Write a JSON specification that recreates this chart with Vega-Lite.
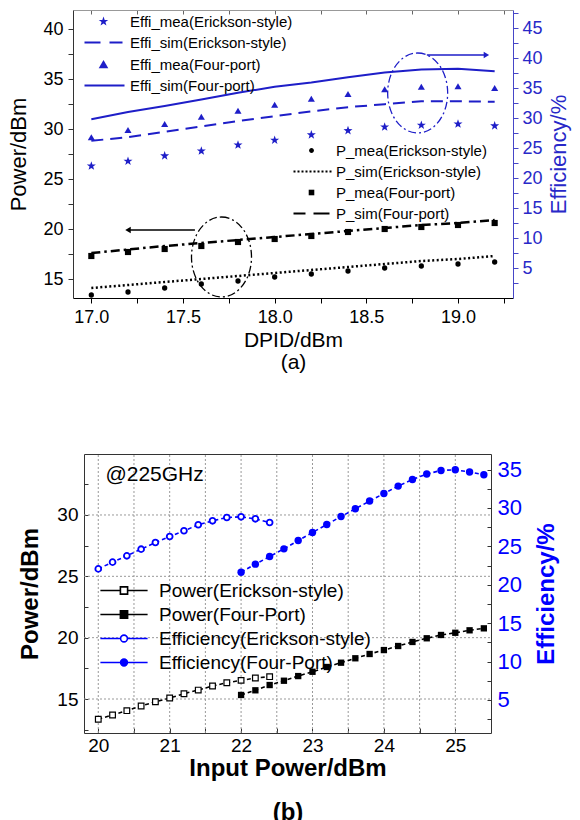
{
"$schema": "https://vega.github.io/schema/vega-lite/v6.json",
"width": 580, "height": 820,
"autosize": {"type": "none"},
"padding": 0,
"config": {"font": "Liberation Sans", "view": {"stroke": null}},
"datasets": {
"a": [
{"s":"Effi_mea(Erickson-style)","x":17.0,"v":22.0},{"s":"Effi_mea(Erickson-style)","x":17.2,"v":22.8},{"s":"Effi_mea(Erickson-style)","x":17.4,"v":23.7},{"s":"Effi_mea(Erickson-style)","x":17.6,"v":24.5},{"s":"Effi_mea(Erickson-style)","x":17.8,"v":25.5},{"s":"Effi_mea(Erickson-style)","x":18.0,"v":26.3},{"s":"Effi_mea(Erickson-style)","x":18.2,"v":27.2},{"s":"Effi_mea(Erickson-style)","x":18.4,"v":27.9},{"s":"Effi_mea(Erickson-style)","x":18.6,"v":28.5},{"s":"Effi_mea(Erickson-style)","x":18.8,"v":28.8},{"s":"Effi_mea(Erickson-style)","x":19.0,"v":29.0},{"s":"Effi_mea(Erickson-style)","x":19.2,"v":28.7},
{"s":"Effi_sim(Erickson-style)","x":17.0,"v":26.2},{"s":"Effi_sim(Erickson-style)","x":17.2,"v":26.8},{"s":"Effi_sim(Erickson-style)","x":17.4,"v":27.7},{"s":"Effi_sim(Erickson-style)","x":17.6,"v":28.6},{"s":"Effi_sim(Erickson-style)","x":17.8,"v":29.5},{"s":"Effi_sim(Erickson-style)","x":18.0,"v":30.3},{"s":"Effi_sim(Erickson-style)","x":18.2,"v":31.1},{"s":"Effi_sim(Erickson-style)","x":18.4,"v":31.8},{"s":"Effi_sim(Erickson-style)","x":18.6,"v":32.3},{"s":"Effi_sim(Erickson-style)","x":18.8,"v":32.8},{"s":"Effi_sim(Erickson-style)","x":19.0,"v":32.8},{"s":"Effi_sim(Erickson-style)","x":19.2,"v":32.7},
{"s":"Effi_mea(Four-port)","x":17.0,"v":26.8},{"s":"Effi_mea(Four-port)","x":17.2,"v":28.0},{"s":"Effi_mea(Four-port)","x":17.4,"v":29.0},{"s":"Effi_mea(Four-port)","x":17.6,"v":30.2},{"s":"Effi_mea(Four-port)","x":17.8,"v":31.2},{"s":"Effi_mea(Four-port)","x":18.0,"v":32.2},{"s":"Effi_mea(Four-port)","x":18.2,"v":33.2},{"s":"Effi_mea(Four-port)","x":18.4,"v":34.0},{"s":"Effi_mea(Four-port)","x":18.6,"v":34.8},{"s":"Effi_mea(Four-port)","x":18.8,"v":35.2},{"s":"Effi_mea(Four-port)","x":19.0,"v":35.3},{"s":"Effi_mea(Four-port)","x":19.2,"v":35.0},
{"s":"Effi_sim(Four-port)","x":17.0,"v":29.8},{"s":"Effi_sim(Four-port)","x":17.2,"v":31.0},{"s":"Effi_sim(Four-port)","x":17.4,"v":32.0},{"s":"Effi_sim(Four-port)","x":17.6,"v":33.1},{"s":"Effi_sim(Four-port)","x":17.8,"v":34.2},{"s":"Effi_sim(Four-port)","x":18.0,"v":35.2},{"s":"Effi_sim(Four-port)","x":18.2,"v":35.9},{"s":"Effi_sim(Four-port)","x":18.4,"v":36.8},{"s":"Effi_sim(Four-port)","x":18.6,"v":37.6},{"s":"Effi_sim(Four-port)","x":18.8,"v":38.1},{"s":"Effi_sim(Four-port)","x":19.0,"v":38.2},{"s":"Effi_sim(Four-port)","x":19.2,"v":37.8},
{"s":"P_mea(Erickson-style)","x":17.0,"v":13.4},{"s":"P_mea(Erickson-style)","x":17.2,"v":13.7},{"s":"P_mea(Erickson-style)","x":17.4,"v":14.1},{"s":"P_mea(Erickson-style)","x":17.6,"v":14.5},{"s":"P_mea(Erickson-style)","x":17.8,"v":14.8},{"s":"P_mea(Erickson-style)","x":18.0,"v":15.2},{"s":"P_mea(Erickson-style)","x":18.2,"v":15.5},{"s":"P_mea(Erickson-style)","x":18.4,"v":15.8},{"s":"P_mea(Erickson-style)","x":18.6,"v":16.1},{"s":"P_mea(Erickson-style)","x":18.8,"v":16.3},{"s":"P_mea(Erickson-style)","x":19.0,"v":16.5},{"s":"P_mea(Erickson-style)","x":19.2,"v":16.7},
{"s":"P_sim(Erickson-style)","x":17.0,"v":14.1},{"s":"P_sim(Erickson-style)","x":17.2,"v":14.4},{"s":"P_sim(Erickson-style)","x":17.4,"v":14.7},{"s":"P_sim(Erickson-style)","x":17.6,"v":15.0},{"s":"P_sim(Erickson-style)","x":17.8,"v":15.3},{"s":"P_sim(Erickson-style)","x":18.0,"v":15.6},{"s":"P_sim(Erickson-style)","x":18.2,"v":15.9},{"s":"P_sim(Erickson-style)","x":18.4,"v":16.2},{"s":"P_sim(Erickson-style)","x":18.6,"v":16.5},{"s":"P_sim(Erickson-style)","x":18.8,"v":16.8},{"s":"P_sim(Erickson-style)","x":19.0,"v":17.0},{"s":"P_sim(Erickson-style)","x":19.2,"v":17.3},
{"s":"P_mea(Four-port)","x":17.0,"v":17.3},{"s":"P_mea(Four-port)","x":17.2,"v":17.7},{"s":"P_mea(Four-port)","x":17.4,"v":18.0},{"s":"P_mea(Four-port)","x":17.6,"v":18.3},{"s":"P_mea(Four-port)","x":17.8,"v":18.7},{"s":"P_mea(Four-port)","x":18.0,"v":19.0},{"s":"P_mea(Four-port)","x":18.2,"v":19.3},{"s":"P_mea(Four-port)","x":18.4,"v":19.7},{"s":"P_mea(Four-port)","x":18.6,"v":20.0},{"s":"P_mea(Four-port)","x":18.8,"v":20.2},{"s":"P_mea(Four-port)","x":19.0,"v":20.4},{"s":"P_mea(Four-port)","x":19.2,"v":20.6},
{"s":"P_sim(Four-port)","x":17.0,"v":17.6},{"s":"P_sim(Four-port)","x":17.2,"v":17.95},{"s":"P_sim(Four-port)","x":17.4,"v":18.3},{"s":"P_sim(Four-port)","x":17.6,"v":18.6},{"s":"P_sim(Four-port)","x":17.8,"v":18.9},{"s":"P_sim(Four-port)","x":18.0,"v":19.2},{"s":"P_sim(Four-port)","x":18.2,"v":19.5},{"s":"P_sim(Four-port)","x":18.4,"v":19.8},{"s":"P_sim(Four-port)","x":18.6,"v":20.1},{"s":"P_sim(Four-port)","x":18.8,"v":20.4},{"s":"P_sim(Four-port)","x":19.0,"v":20.6},{"s":"P_sim(Four-port)","x":19.2,"v":20.9}
],
"aa": [
{"k":"e1","x":17.71,"v":17.2},
{"k":"e2","x":18.78,"v":34.17},
{"k":"a1","x":17.565,"x2":17.2,"v":19.9},
{"k":"a2","x":18.83,"x2":19.155,"v":40.5}
],
"gx": [{"g":20},{"g":20.5},{"g":21},{"g":21.5},{"g":22},{"g":22.5},{"g":23},{"g":23.5},{"g":24},{"g":24.5},{"g":25}],
"gy": [{"g":15},{"g":20},{"g":25},{"g":30}],
"lbl": [{"t":"@225GHz","x":20.1,"v":32.77}],
"b": [
{"s":"Power(Erickson-style)","x":20.0,"v":13.35},{"s":"Power(Erickson-style)","x":20.2,"v":13.70},{"s":"Power(Erickson-style)","x":20.4,"v":14.05},{"s":"Power(Erickson-style)","x":20.6,"v":14.43},{"s":"Power(Erickson-style)","x":20.8,"v":14.78},{"s":"Power(Erickson-style)","x":21.0,"v":15.08},{"s":"Power(Erickson-style)","x":21.2,"v":15.43},{"s":"Power(Erickson-style)","x":21.4,"v":15.73},{"s":"Power(Erickson-style)","x":21.6,"v":16.06},{"s":"Power(Erickson-style)","x":21.8,"v":16.33},{"s":"Power(Erickson-style)","x":22.0,"v":16.52},{"s":"Power(Erickson-style)","x":22.2,"v":16.71},{"s":"Power(Erickson-style)","x":22.4,"v":16.82},
{"s":"Power(Four-Port)","x":22.0,"v":15.33},{"s":"Power(Four-Port)","x":22.2,"v":15.71},{"s":"Power(Four-Port)","x":22.4,"v":16.14},{"s":"Power(Four-Port)","x":22.6,"v":16.49},{"s":"Power(Four-Port)","x":22.8,"v":16.87},{"s":"Power(Four-Port)","x":23.0,"v":17.22},{"s":"Power(Four-Port)","x":23.2,"v":17.61},{"s":"Power(Four-Port)","x":23.4,"v":17.96},{"s":"Power(Four-Port)","x":23.6,"v":18.32},{"s":"Power(Four-Port)","x":23.8,"v":18.67},{"s":"Power(Four-Port)","x":24.0,"v":18.99},{"s":"Power(Four-Port)","x":24.2,"v":19.32},{"s":"Power(Four-Port)","x":24.4,"v":19.65},{"s":"Power(Four-Port)","x":24.6,"v":19.95},{"s":"Power(Four-Port)","x":24.8,"v":20.22},{"s":"Power(Four-Port)","x":25.0,"v":20.40},{"s":"Power(Four-Port)","x":25.2,"v":20.60},{"s":"Power(Four-Port)","x":25.4,"v":20.76},
{"s":"Efficiency(Erickson-style)","x":20.0,"v":22.07},{"s":"Efficiency(Erickson-style)","x":20.2,"v":22.95},{"s":"Efficiency(Erickson-style)","x":20.4,"v":23.77},{"s":"Efficiency(Erickson-style)","x":20.6,"v":24.64},{"s":"Efficiency(Erickson-style)","x":20.8,"v":25.5},{"s":"Efficiency(Erickson-style)","x":21.0,"v":26.28},{"s":"Efficiency(Erickson-style)","x":21.2,"v":27.03},{"s":"Efficiency(Erickson-style)","x":21.4,"v":27.81},{"s":"Efficiency(Erickson-style)","x":21.6,"v":28.33},{"s":"Efficiency(Erickson-style)","x":21.8,"v":28.76},{"s":"Efficiency(Erickson-style)","x":22.0,"v":28.85},{"s":"Efficiency(Erickson-style)","x":22.2,"v":28.59},{"s":"Efficiency(Erickson-style)","x":22.4,"v":28.11},
{"s":"Efficiency(Four-Port)","x":22.0,"v":21.64},{"s":"Efficiency(Four-Port)","x":22.2,"v":22.69},{"s":"Efficiency(Four-Port)","x":22.4,"v":23.68},{"s":"Efficiency(Four-Port)","x":22.6,"v":24.68},{"s":"Efficiency(Four-Port)","x":22.8,"v":25.76},{"s":"Efficiency(Four-Port)","x":23.0,"v":26.81},{"s":"Efficiency(Four-Port)","x":23.2,"v":27.85},{"s":"Efficiency(Four-Port)","x":23.4,"v":28.89},{"s":"Efficiency(Four-Port)","x":23.6,"v":29.9},{"s":"Efficiency(Four-Port)","x":23.8,"v":30.9},{"s":"Efficiency(Four-Port)","x":24.0,"v":31.89},{"s":"Efficiency(Four-Port)","x":24.2,"v":32.85},{"s":"Efficiency(Four-Port)","x":24.4,"v":33.72},{"s":"Efficiency(Four-Port)","x":24.6,"v":34.42},{"s":"Efficiency(Four-Port)","x":24.8,"v":34.89},{"s":"Efficiency(Four-Port)","x":25.0,"v":34.98},{"s":"Efficiency(Four-Port)","x":25.2,"v":34.68},{"s":"Efficiency(Four-Port)","x":25.4,"v":34.33}
]
},
"layer": [
{"data": {"name": "gx"}, "mark": {"type": "rule", "color": "#999", "strokeWidth": 1, "strokeDash": [2, 2]},
 "encoding": {"x": {"field": "g", "type": "quantitative", "scale": {"domain": [19.8, 25.5], "range": [84, 491], "nice": false, "zero": false}, "axis": null},
  "y": {"datum": 12.23, "type": "quantitative", "scale": {"domain": [12.23, 34.97], "range": [733, 454], "nice": false, "zero": false}, "axis": null}, "y2": {"datum": 34.97}}},
{"data": {"name": "gy"}, "mark": {"type": "rule", "color": "#999", "strokeWidth": 1, "strokeDash": [2, 2]},
 "encoding": {"y": {"field": "g", "type": "quantitative", "scale": {"domain": [12.23, 34.97], "range": [733, 454], "nice": false, "zero": false}, "axis": null},
  "x": {"datum": 19.8, "type": "quantitative", "scale": {"domain": [19.8, 25.5], "range": [84, 491], "nice": false, "zero": false}, "axis": null}, "x2": {"datum": 25.5}}},

{"data": {"name": "a"}, "transform": [{"filter": "datum.s == 'P_sim(Erickson-style)'"}], "mark": {"type": "line", "color": "#000", "strokeWidth": 2.5, "strokeDash": [2, 2.5]},
 "encoding": {
  "x": {"field": "x", "type": "quantitative", "scale": {"domain": [16.9, 19.3], "range": [73, 513], "nice": false, "zero": false},
   "axis": {"orient": "bottom", "offset": -522, "title": ["DPID/dBm", "(a)"], "titleLineHeight": 22, "values": [17,17.25,17.5,17.75,18,18.25,18.5,18.75,19,19.25], "format": ".1f", "labelExpr": "datum.value*2 == round(datum.value*2) ? datum.label : ''", "labelFontSize": 18, "labelColor": "#000", "labelPadding": 5, "labelOverlap": false, "labelFlush": false, "tickSize": 5, "tickColor": "#000", "domainColor": "#000", "titleFontSize": 21, "titleFontWeight": "normal", "titleColor": "#000", "titlePadding": 3, "grid": false}},
  "y": {"field": "v", "type": "quantitative", "scale": {"domain": [13.1, 41.9], "range": [298, 10], "nice": false, "zero": false},
   "axis": {"orient": "left", "offset": -73, "title": "Power/dBm", "values": [15,17.5,20,22.5,25,27.5,30,32.5,35,37.5,40], "format": ".0f", "labelExpr": "datum.value % 5 == 0 ? datum.label : ''", "labelFontSize": 18, "labelColor": "#000", "labelPadding": 5, "labelOverlap": false, "tickSize": 5, "tickColor": "#333", "domainColor": "#333", "titleFontSize": 22, "titleFontWeight": "normal", "titleColor": "#000", "titlePadding": 12, "grid": false}}}},
{"data": {"name": "a"}, "transform": [{"filter": "datum.s == 'P_sim(Four-port)'"}], "mark": {"type": "line", "color": "#000", "strokeWidth": 2.5, "strokeDash": [9, 4, 2.5, 4]},
 "encoding": {"x": {"field": "x", "type": "quantitative", "scale": {"domain": [16.9, 19.3], "range": [73, 513], "nice": false, "zero": false}, "axis": null},
  "y": {"field": "v", "type": "quantitative", "scale": {"domain": [13.1, 41.9], "range": [298, 10], "nice": false, "zero": false}, "axis": null}}},
{"data": {"name": "a"}, "transform": [{"filter": "datum.s == 'P_mea(Erickson-style)'"}], "mark": {"type": "point", "shape": "circle", "filled": true, "color": "#000", "size": 28, "opacity": 1},
 "encoding": {"x": {"field": "x", "type": "quantitative", "scale": {"domain": [16.9, 19.3], "range": [73, 513], "nice": false, "zero": false}, "axis": null},
  "y": {"field": "v", "type": "quantitative", "scale": {"domain": [13.1, 41.9], "range": [298, 10], "nice": false, "zero": false}, "axis": null}}},
{"data": {"name": "a"}, "transform": [{"filter": "datum.s == 'P_mea(Four-port)'"}], "mark": {"type": "point", "shape": "square", "filled": true, "color": "#000", "size": 38, "opacity": 1},
 "encoding": {"x": {"field": "x", "type": "quantitative", "scale": {"domain": [16.9, 19.3], "range": [73, 513], "nice": false, "zero": false}, "axis": null},
  "y": {"field": "v", "type": "quantitative", "scale": {"domain": [13.1, 41.9], "range": [298, 10], "nice": false, "zero": false}, "axis": null}}},
{"data": {"name": "aa"}, "transform": [{"filter": "datum.k == 'e1'"}], "mark": {"type": "point", "shape": "M0,-1A0.75,1 0 1,1 0,1A0.75,1 0 1,1 0,-1Z", "size": 6400, "filled": false, "stroke": "#000", "strokeWidth": 1.3, "strokeDash": [8, 3, 2, 3], "opacity": 1},
 "encoding": {"x": {"field": "x", "type": "quantitative", "scale": {"domain": [16.9, 19.3], "range": [73, 513], "nice": false, "zero": false}, "axis": null},
  "y": {"field": "v", "type": "quantitative", "scale": {"domain": [13.1, 41.9], "range": [298, 10], "nice": false, "zero": false}, "axis": null}}},
{"data": {"name": "aa"}, "transform": [{"filter": "datum.k == 'a1'"}], "mark": {"type": "rule", "color": "#000", "strokeWidth": 1.5},
 "encoding": {"x": {"field": "x", "type": "quantitative", "scale": {"domain": [16.9, 19.3], "range": [73, 513], "nice": false, "zero": false}, "axis": null}, "x2": {"field": "x2"},
  "y": {"field": "v", "type": "quantitative", "scale": {"domain": [13.1, 41.9], "range": [298, 10], "nice": false, "zero": false}, "axis": null}}},
{"data": {"name": "aa"}, "transform": [{"filter": "datum.k == 'a1'"}], "mark": {"type": "point", "shape": "triangle-left", "filled": true, "color": "#000", "size": 40, "opacity": 1},
 "encoding": {"x": {"field": "x2", "type": "quantitative", "scale": {"domain": [16.9, 19.3], "range": [73, 513], "nice": false, "zero": false}, "axis": null},
  "y": {"field": "v", "type": "quantitative", "scale": {"domain": [13.1, 41.9], "range": [298, 10], "nice": false, "zero": false}, "axis": null}}},

{"data": {"name": "a"}, "transform": [{"filter": "datum.s == 'Effi_sim(Erickson-style)'"}], "mark": {"type": "line", "color": "#1e1ec8", "strokeWidth": 2, "strokeDash": [12, 7]},
 "encoding": {
  "x": {"field": "x", "type": "quantitative", "scale": {"domain": [16.9, 19.3], "range": [73, 513], "nice": false, "zero": false},
   "axis": {"orient": "top", "offset": -10, "title": null, "values": [17,17.25,17.5,17.75,18,18.25,18.5,18.75,19,19.25], "labels": false, "tickSize": -4, "tickColor": "#666", "domainColor": "#999", "grid": false}},
  "y": {"field": "v", "type": "quantitative", "scale": {"domain": [0, 48], "range": [298, 10], "nice": false, "zero": false},
   "axis": {"orient": "right", "offset": -67, "title": "Efficiency/%", "values": [2.5,5,7.5,10,12.5,15,17.5,20,22.5,25,27.5,30,32.5,35,37.5,40,42.5,45,47.5], "format": ".0f", "labelExpr": "datum.value % 5 == 0 ? datum.label : ''", "labelFontSize": 18, "labelColor": "#2828c8", "labelPadding": 4, "labelOverlap": false, "tickSize": 5, "tickColor": "#4646c8", "domainColor": "#4646c8", "titleFontSize": 22, "titleFontWeight": "normal", "titleColor": "#2828c8", "titleAngle": -90, "titleBaseline": "top", "titlePadding": 6, "grid": false}}}},
{"data": {"name": "a"}, "transform": [{"filter": "datum.s == 'Effi_sim(Four-port)'"}], "mark": {"type": "line", "color": "#1e1ec8", "strokeWidth": 2},
 "encoding": {"x": {"field": "x", "type": "quantitative", "scale": {"domain": [16.9, 19.3], "range": [73, 513], "nice": false, "zero": false}, "axis": null},
  "y": {"field": "v", "type": "quantitative", "scale": {"domain": [0, 48], "range": [298, 10], "nice": false, "zero": false}, "axis": null}}},
{"data": {"name": "a"}, "transform": [{"filter": "datum.s == 'Effi_mea(Erickson-style)'"}], "mark": {"type": "point", "shape": "M0,-1L0.235,-0.324L0.951,-0.309L0.38,0.124L0.588,0.809L0,0.4L-0.588,0.809L-0.38,0.124L-0.951,-0.309L-0.235,-0.324Z", "filled": true, "color": "#1e1ec8", "size": 90, "opacity": 1},
 "encoding": {"x": {"field": "x", "type": "quantitative", "scale": {"domain": [16.9, 19.3], "range": [73, 513], "nice": false, "zero": false}, "axis": null},
  "y": {"field": "v", "type": "quantitative", "scale": {"domain": [0, 48], "range": [298, 10], "nice": false, "zero": false}, "axis": null}}},
{"data": {"name": "a"}, "transform": [{"filter": "datum.s == 'Effi_mea(Four-port)'"}], "mark": {"type": "point", "shape": "triangle-up", "filled": true, "color": "#1e1ec8", "size": 50, "opacity": 1},
 "encoding": {"x": {"field": "x", "type": "quantitative", "scale": {"domain": [16.9, 19.3], "range": [73, 513], "nice": false, "zero": false}, "axis": null},
  "y": {"field": "v", "type": "quantitative", "scale": {"domain": [0, 48], "range": [298, 10], "nice": false, "zero": false}, "axis": null}}},
{"data": {"name": "aa"}, "transform": [{"filter": "datum.k == 'e2'"}], "mark": {"type": "point", "shape": "M0,-1A0.75,1 0 1,1 0,1A0.75,1 0 1,1 0,-1Z", "size": 6400, "filled": false, "stroke": "#1e1ec8", "strokeWidth": 1.3, "strokeDash": [8, 3, 2, 3], "opacity": 1},
 "encoding": {"x": {"field": "x", "type": "quantitative", "scale": {"domain": [16.9, 19.3], "range": [73, 513], "nice": false, "zero": false}, "axis": null},
  "y": {"field": "v", "type": "quantitative", "scale": {"domain": [0, 48], "range": [298, 10], "nice": false, "zero": false}, "axis": null}}},
{"data": {"name": "aa"}, "transform": [{"filter": "datum.k == 'a2'"}], "mark": {"type": "rule", "color": "#1e1ec8", "strokeWidth": 1.5},
 "encoding": {"x": {"field": "x", "type": "quantitative", "scale": {"domain": [16.9, 19.3], "range": [73, 513], "nice": false, "zero": false}, "axis": null}, "x2": {"field": "x2"},
  "y": {"field": "v", "type": "quantitative", "scale": {"domain": [0, 48], "range": [298, 10], "nice": false, "zero": false}, "axis": null}}},
{"data": {"name": "aa"}, "transform": [{"filter": "datum.k == 'a2'"}], "mark": {"type": "point", "shape": "triangle-right", "filled": true, "color": "#1e1ec8", "size": 40, "opacity": 1},
 "encoding": {"x": {"field": "x2", "type": "quantitative", "scale": {"domain": [16.9, 19.3], "range": [73, 513], "nice": false, "zero": false}, "axis": null},
  "y": {"field": "v", "type": "quantitative", "scale": {"domain": [0, 48], "range": [298, 10], "nice": false, "zero": false}, "axis": null}}},

{"data": {"name": "b"}, "transform": [{"filter": "datum.s == 'Power(Erickson-style)'"}], "mark": {"type": "line", "color": "#000", "strokeWidth": 1.6, "strokeDash": [4, 3]},
 "encoding": {
  "x": {"field": "x", "type": "quantitative", "scale": {"domain": [19.8, 25.5], "range": [84, 491], "nice": false, "zero": false},
   "axis": {"orient": "bottom", "offset": -87, "title": ["Input Power/dBm", "(b)"], "titleLineHeight": 44, "values": [20,20.5,21,21.5,22,22.5,23,23.5,24,24.5,25], "format": ".0f", "labelExpr": "datum.value % 1 == 0 ? datum.label : ''", "labelFontSize": 19, "labelColor": "#000", "labelPadding": 8, "labelOverlap": false, "labelFlush": false, "tickSize": -5, "tickColor": "#333", "domainColor": "#333", "grid": false, "titleFontSize": 24, "titleFontWeight": "bold", "titleColor": "#000", "titlePadding": 1}},
  "y": {"field": "v", "type": "quantitative", "scale": {"domain": [12.23, 34.97], "range": [733, 454], "nice": false, "zero": false},
   "axis": {"orient": "left", "offset": -84, "title": "Power/dBm", "values": [12.5,15,17.5,20,22.5,25,27.5,30,32.5], "format": ".0f", "labelExpr": "datum.value % 5 == 0 ? datum.label : ''", "labelFontSize": 19, "labelColor": "#000", "labelPadding": 10, "labelOverlap": false, "tickSize": -4, "tickColor": "#333", "domainColor": "#333", "grid": false, "titleFontSize": 24, "titleFontWeight": "bold", "titleColor": "#000", "titlePadding": 14}}}},
{"data": {"name": "b"}, "transform": [{"filter": "datum.s == 'Power(Four-Port)'"}], "mark": {"type": "line", "color": "#000", "strokeWidth": 1.6, "strokeDash": [4, 3]},
 "encoding": {"x": {"field": "x", "type": "quantitative", "scale": {"domain": [19.8, 25.5], "range": [84, 491], "nice": false, "zero": false}, "axis": null},
  "y": {"field": "v", "type": "quantitative", "scale": {"domain": [12.23, 34.97], "range": [733, 454], "nice": false, "zero": false}, "axis": null}}},
{"data": {"name": "b"}, "transform": [{"filter": "datum.s == 'Power(Erickson-style)'"}], "mark": {"type": "point", "shape": "square", "filled": false, "fill": "#fff", "stroke": "#000", "strokeWidth": 1.2, "size": 32, "opacity": 1},
 "encoding": {"x": {"field": "x", "type": "quantitative", "scale": {"domain": [19.8, 25.5], "range": [84, 491], "nice": false, "zero": false}, "axis": null},
  "y": {"field": "v", "type": "quantitative", "scale": {"domain": [12.23, 34.97], "range": [733, 454], "nice": false, "zero": false}, "axis": null}}},
{"data": {"name": "b"}, "transform": [{"filter": "datum.s == 'Power(Four-Port)'"}], "mark": {"type": "point", "shape": "square", "filled": true, "color": "#000", "size": 40, "opacity": 1},
 "encoding": {"x": {"field": "x", "type": "quantitative", "scale": {"domain": [19.8, 25.5], "range": [84, 491], "nice": false, "zero": false}, "axis": null},
  "y": {"field": "v", "type": "quantitative", "scale": {"domain": [12.23, 34.97], "range": [733, 454], "nice": false, "zero": false}, "axis": null}}},
{"data": {"name": "lbl"}, "mark": {"type": "text", "fontSize": 21, "align": "left", "baseline": "alphabetic", "color": "#000"},
 "encoding": {"text": {"field": "t"}, "x": {"field": "x", "type": "quantitative", "scale": {"domain": [19.8, 25.5], "range": [84, 491], "nice": false, "zero": false}, "axis": null},
  "y": {"field": "v", "type": "quantitative", "scale": {"domain": [12.23, 34.97], "range": [733, 454], "nice": false, "zero": false}, "axis": null}}},

{"data": {"name": "b"}, "transform": [{"filter": "datum.s == 'Efficiency(Erickson-style)'"}], "mark": {"type": "line", "color": "#0000ff", "strokeWidth": 1.6, "strokeDash": [4, 3]},
 "encoding": {
  "x": {"field": "x", "type": "quantitative", "scale": {"domain": [19.8, 25.5], "range": [84, 491], "nice": false, "zero": false},
   "axis": {"orient": "top", "offset": -454, "title": null, "labels": false, "ticks": false, "domainColor": "#333", "grid": false}},
  "y": {"field": "v", "type": "quantitative", "scale": {"domain": [0.7, 37.03], "range": [733, 454], "nice": false, "zero": false},
   "axis": {"orient": "right", "offset": -89, "title": "Efficiency/%", "values": [2.5,5,7.5,10,12.5,15,17.5,20,22.5,25,27.5,30,32.5,35], "format": ".0f", "labelExpr": "datum.value % 5 == 0 ? datum.label : ''", "labelFontSize": 22, "labelColor": "#0000ff", "labelPadding": 10, "labelOverlap": false, "tickSize": -4, "tickColor": "#333", "domainColor": "#333", "grid": false, "titleFontSize": 24, "titleFontWeight": "bold", "titleColor": "#0000ff", "titleAngle": -90, "titleBaseline": "top", "titlePadding": 13}}}},
{"data": {"name": "b"}, "transform": [{"filter": "datum.s == 'Efficiency(Four-Port)'"}], "mark": {"type": "line", "color": "#0000ff", "strokeWidth": 1.6, "strokeDash": [4, 3]},
 "encoding": {"x": {"field": "x", "type": "quantitative", "scale": {"domain": [19.8, 25.5], "range": [84, 491], "nice": false, "zero": false}, "axis": null},
  "y": {"field": "v", "type": "quantitative", "scale": {"domain": [0.7, 37.03], "range": [733, 454], "nice": false, "zero": false}, "axis": null}}},
{"data": {"name": "b"}, "transform": [{"filter": "datum.s == 'Efficiency(Erickson-style)'"}], "mark": {"type": "point", "shape": "circle", "filled": false, "fill": "#fff", "stroke": "#0000ff", "strokeWidth": 1.8, "size": 34, "opacity": 1},
 "encoding": {"x": {"field": "x", "type": "quantitative", "scale": {"domain": [19.8, 25.5], "range": [84, 491], "nice": false, "zero": false}, "axis": null},
  "y": {"field": "v", "type": "quantitative", "scale": {"domain": [0.7, 37.03], "range": [733, 454], "nice": false, "zero": false}, "axis": null}}},
{"data": {"name": "b"}, "transform": [{"filter": "datum.s == 'Efficiency(Four-Port)'"}], "mark": {"type": "point", "shape": "circle", "filled": true, "color": "#0000ff", "size": 55, "opacity": 1},
 "encoding": {"x": {"field": "x", "type": "quantitative", "scale": {"domain": [19.8, 25.5], "range": [84, 491], "nice": false, "zero": false}, "axis": null},
  "y": {"field": "v", "type": "quantitative", "scale": {"domain": [0.7, 37.03], "range": [733, 454], "nice": false, "zero": false}, "axis": null}}},

{"data": {"name": "a"}, "transform": [{"filter": "false"}], "mark": {"type": "point", "opacity": 1, "strokeWidth": 2},
 "encoding": {
  "shape": {"field": "s", "type": "nominal", "scale": {"domain": ["P_mea(Erickson-style)", "P_sim(Erickson-style)", "P_mea(Four-port)", "P_sim(Four-port)"], "range": ["M-0.6,0A0.6,0.6 0 1,0 0.6,0A0.6,0.6 0 1,0 -0.6,0Z", "M-4.5,0h0.5M-3.5,0h0.5M-2.5,0h0.5M-1.5,0h0.5M-0.5,0h0.5M0.5,0h0.5M1.5,0h0.5M2.5,0h0.5M3.5,0h0.5M4.5,0h0.5", "M-0.7,-0.7H0.7V0.7H-0.7Z", "M-4.5,0H-1.5M0.5,0H4.5"]},
   "legend": {"title": null, "orient": "none", "legendX": 304, "legendY": 143, "padding": 0, "symbolSize": 64, "symbolStrokeWidth": 2, "symbolOffset": 0, "labelOffset": 17, "labelFontSize": 15, "labelColor": "#000", "labelLimit": 400, "rowPadding": 5}},
  "fill": {"field": "s", "type": "nominal", "scale": {"domain": ["P_mea(Erickson-style)", "P_sim(Erickson-style)", "P_mea(Four-port)", "P_sim(Four-port)"], "range": ["#000", "transparent", "#000", "transparent"]}},
  "stroke": {"field": "s", "type": "nominal", "scale": {"domain": ["P_mea(Erickson-style)", "P_sim(Erickson-style)", "P_mea(Four-port)", "P_sim(Four-port)"], "range": ["transparent", "#000", "transparent", "#000"]}}}},
{"data": {"name": "a"}, "transform": [{"filter": "false"}], "mark": {"type": "point", "opacity": 1, "strokeWidth": 2},
 "encoding": {
  "shape": {"field": "s", "type": "nominal", "scale": {"domain": ["Effi_mea(Erickson-style)", "Effi_sim(Erickson-style)", "Effi_mea(Four-port)", "Effi_sim(Four-port)"], "range": ["M0,-1.25L0.294,-0.405L1.189,-0.386L0.476,0.155L0.735,1.011L0,0.5L-0.735,1.011L-0.476,0.155L-1.189,-0.386L-0.294,-0.405Z", "M-4.75,0H-0.75M1.5,0H4.75", "M0,-1.1L1.2,0.95L-1.2,0.95Z", "M-4.75,0H5.25"]},
   "legend": {"title": null, "orient": "none", "legendX": 96, "legendY": 14, "padding": 0, "symbolSize": 64, "symbolStrokeWidth": 2, "symbolOffset": 0, "labelOffset": 19, "labelFontSize": 15, "labelColor": "#000", "labelLimit": 400, "rowPadding": 5}},
  "fill": {"field": "s", "type": "nominal", "scale": {"domain": ["Effi_mea(Erickson-style)", "Effi_sim(Erickson-style)", "Effi_mea(Four-port)", "Effi_sim(Four-port)"], "range": ["#1e1ec8", "transparent", "#1e1ec8", "transparent"]}},
  "stroke": {"field": "s", "type": "nominal", "scale": {"domain": ["Effi_mea(Erickson-style)", "Effi_sim(Erickson-style)", "Effi_mea(Four-port)", "Effi_sim(Four-port)"], "range": ["transparent", "#1e1ec8", "transparent", "#1e1ec8"]}}}},
{"data": {"name": "b"}, "transform": [{"filter": "false"}], "mark": {"type": "point", "opacity": 1, "strokeWidth": 1.6},
 "encoding": {
  "shape": {"field": "s", "type": "nominal", "scale": {"domain": ["Power(Erickson-style)", "Power(Four-Port)", "Efficiency(Erickson-style)", "Efficiency(Four-Port)"], "range": ["M-5.9,0H-0.9M0.9,0H5.9M-0.9,-0.9H0.9V0.9H-0.9Z", "M-5.9,0H-0.9M0.9,0H5.9M-0.9,-0.9H0.9V0.9H-0.9Z", "M-5.9,0H-0.85M0.85,0H5.9M-0.85,0A0.85,0.85 0 1,0 0.85,0A0.85,0.85 0 1,0 -0.85,0Z", "M-5.9,0H-0.85M0.85,0H5.9M-0.85,0A0.85,0.85 0 1,0 0.85,0A0.85,0.85 0 1,0 -0.85,0Z"]},
   "legend": {"title": null, "orient": "none", "legendX": 114.5, "legendY": 581, "padding": 0, "symbolSize": 64, "symbolStrokeWidth": 1.6, "symbolOffset": 0, "labelOffset": 25.5, "labelFontSize": 19, "labelColor": "#000", "labelLimit": 400, "rowPadding": 4}},
  "fill": {"field": "s", "type": "nominal", "scale": {"domain": ["Power(Erickson-style)", "Power(Four-Port)", "Efficiency(Erickson-style)", "Efficiency(Four-Port)"], "range": ["#fff", "#000", "#fff", "#0000ff"]}},
  "stroke": {"field": "s", "type": "nominal", "scale": {"domain": ["Power(Erickson-style)", "Power(Four-Port)", "Efficiency(Erickson-style)", "Efficiency(Four-Port)"], "range": ["#000", "#000", "#0000ff", "#0000ff"]}}}}
],
"resolve": {"scale": {"x": "independent", "y": "independent", "shape": "independent", "fill": "independent", "stroke": "independent"}}
}
